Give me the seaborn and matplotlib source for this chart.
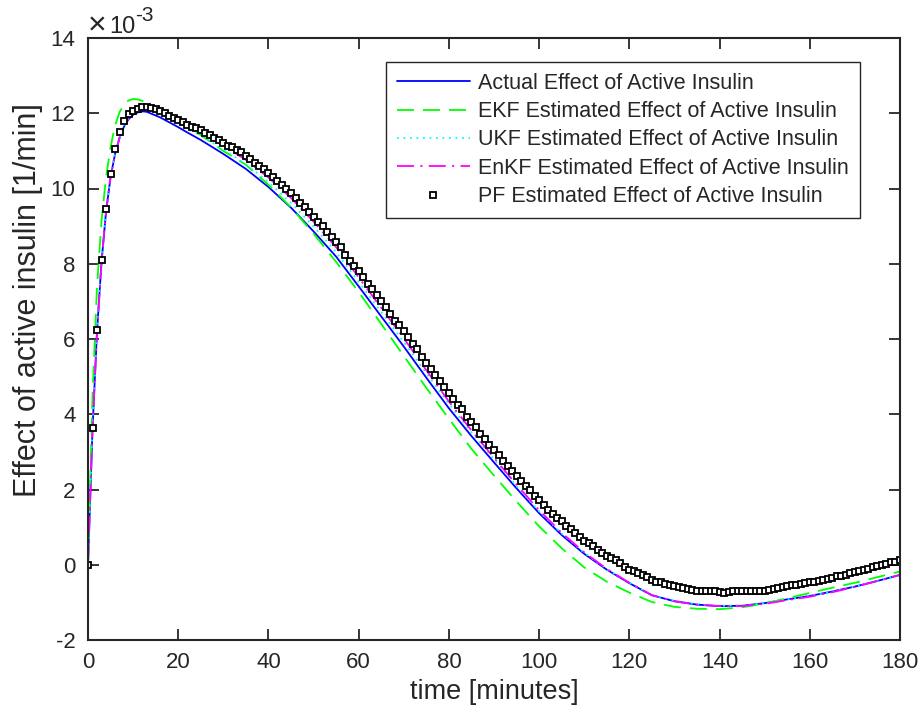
import matplotlib
matplotlib.use("Agg")
import matplotlib.pyplot as plt
import numpy as np
import pandas as pd
import seaborn as sns

# ---------------- data (values in units of 1e-3 1/min) ----------------
t_line = [0, 1, 2, 3, 4, 5, 6, 7, 8, 9, 10, 11, 12, 13, 14, 15, 16, 18, 20, 22,
          25, 30, 35, 40, 45, 50, 55, 60, 65, 70, 75, 80, 85, 90, 95, 100, 105,
          110, 115, 120, 125, 130, 135, 140, 145, 150, 155, 160, 165, 170, 175, 180]

actual = [0, 3.6, 6.2, 8.05, 9.38, 10.3, 10.92, 11.35, 11.65, 11.84,
          11.96, 12.02, 12.05, 12.04, 11.99, 11.94, 11.89, 11.76, 11.63, 11.49,
          11.29, 10.92, 10.52, 10.04, 9.49, 8.86, 8.19, 7.4, 6.6, 5.8,
          4.97, 4.16, 3.42, 2.72, 2.03, 1.37, 0.79, 0.29, -0.13, -0.49,
          -0.81, -0.97, -1.06, -1.1, -1.09, -1.02, -0.92, -0.83, -0.71, -0.58,
          -0.43, -0.27]

ekf = [0, 4.5, 7.4, 9.15, 10.3, 11.1, 11.68, 12.03, 12.24, 12.34,
       12.38, 12.37, 12.33, 12.27, 12.2, 12.13, 12.05, 11.92, 11.78, 11.63,
       11.42, 11.0, 10.63, 10.1, 9.5, 8.8, 8.05, 7.25, 6.4, 5.55,
       4.7, 3.88, 3.08, 2.37, 1.68, 1.02, 0.44, -0.07, -0.45, -0.74,
       -0.99, -1.12, -1.17, -1.18, -1.13, -1.03, -0.89, -0.75, -0.61, -0.48,
       -0.33, -0.18]

ukf = [0, 3.6, 6.2, 8.05, 9.38, 10.3, 10.92, 11.35, 11.65, 11.86,
       11.99, 12.07, 12.11, 12.11, 12.06, 12.02, 11.97, 11.84, 11.72, 11.58,
       11.41, 11.04, 10.65, 10.17, 9.62, 8.99, 8.31, 7.52, 6.72, 5.92,
       5.09, 4.28, 3.52, 2.8, 2.09, 1.42, 0.83, 0.32, -0.12, -0.48,
       -0.8, -0.96, -1.05, -1.09, -1.08, -1.02, -0.92, -0.83, -0.71, -0.58,
       -0.43, -0.27]

enkf = [0, 3.6, 6.2, 8.05, 9.38, 10.3, 10.92, 11.35, 11.65, 11.88,
        12.03, 12.11, 12.15, 12.16, 12.12, 12.08, 12.04, 11.91, 11.79, 11.66,
        11.49, 11.14, 10.76, 10.29, 9.75, 9.12, 8.44, 7.64, 6.83, 6.02,
        5.17, 4.34, 3.57, 2.84, 2.13, 1.45, 0.85, 0.33, -0.11, -0.48,
        -0.81, -0.97, -1.06, -1.1, -1.1, -1.04, -0.94, -0.85, -0.73, -0.59,
        -0.43, -0.27]

pf_minutes = list(range(0, 181))
pf = [0, 3.63, 6.25, 8.10, 9.45, 10.39, 11.05, 11.50, 11.79, 11.98,
      12.07, 12.12, 12.16, 12.17, 12.14, 12.11, 12.06, 12.00, 11.93, 11.88,
      11.83, 11.78, 11.70, 11.64, 11.60, 11.55, 11.48, 11.41, 11.34, 11.28,
      11.22, 11.14, 11.09, 11.01, 10.96, 10.87, 10.79, 10.68, 10.60, 10.52,
      10.42, 10.31, 10.20, 10.09, 9.99, 9.87, 9.76, 9.62, 9.50, 9.37,
      9.24, 9.12, 9.00, 8.84, 8.71, 8.59, 8.44, 8.24, 8.06, 7.93,
      7.80, 7.64, 7.47, 7.32, 7.17, 7.00, 6.84, 6.67, 6.48, 6.37,
      6.20, 6.04, 5.88, 5.73, 5.53, 5.37, 5.19, 5.04, 4.88, 4.72,
      4.56, 4.40, 4.24, 4.13, 3.94, 3.80, 3.67, 3.47, 3.33, 3.19,
      3.06, 2.92, 2.77, 2.63, 2.49, 2.36, 2.23, 2.09, 1.99, 1.84,
      1.71, 1.59, 1.45, 1.34, 1.25, 1.15, 1.03, 0.94, 0.84, 0.74,
      0.64, 0.57, 0.49, 0.39, 0.30, 0.24, 0.17, 0.13, 0.05, -0.06,
      -0.13, -0.17, -0.21, -0.26, -0.33, -0.41, -0.45, -0.45, -0.51, -0.54,
      -0.56, -0.60, -0.63, -0.65, -0.68, -0.70, -0.71, -0.71, -0.71, -0.71,
      -0.73, -0.76, -0.72, -0.71, -0.71, -0.71, -0.71, -0.71, -0.71, -0.71,
      -0.70, -0.68, -0.64, -0.62, -0.60, -0.57, -0.55, -0.53, -0.51, -0.49,
      -0.47, -0.45, -0.42, -0.40, -0.37, -0.34, -0.31, -0.29, -0.26, -0.22,
      -0.20, -0.16, -0.13, -0.10, -0.07, -0.02, 0.00, 0.03, 0.06, 0.08,
      0.12]

labels = ["Actual Effect of Active Insulin",
          "EKF Estimated Effect of Active Insulin",
          "UKF Estimated Effect of Active Insulin",
          "EnKF Estimated Effect of Active Insulin",
          "PF Estimated Effect of Active Insulin"]

x_ticks = [0, 20, 40, 60, 80, 100, 120, 140, 160, 180]
y_ticks = [-2, 0, 2, 4, 6, 8, 10, 12, 14]

# ---------------- style ----------------
sns.set_theme(style="white")
plt.rcParams["font.family"] = ["Liberation Sans", "DejaVu Sans"]

dark = "#262626"

fig = plt.figure(figsize=(9.23, 7.19), dpi=100)
ax = fig.add_axes([88 / 923, 1 - 640 / 719, 812 / 923, 602 / 719])

lw = 1.3
sns.lineplot(x=t_line, y=actual, ax=ax, color=(0, 0, 1), lw=lw, label=labels[0],
             sort=False, estimator=None, errorbar=None)
sns.lineplot(x=t_line, y=ekf, ax=ax, color=(0, 1, 0), lw=lw, label=labels[1],
             linestyle=(0, (9.4, 5)), sort=False, estimator=None, errorbar=None)
sns.lineplot(x=t_line, y=ukf, ax=ax, color=(0, 1, 1), lw=lw, label=labels[2],
             linestyle=(0, (1, 2.6)), sort=False, estimator=None, errorbar=None)
sns.lineplot(x=t_line, y=enkf, ax=ax, color=(1, 0, 1), lw=lw, label=labels[3],
             linestyle=(0, (9.4, 3.5, 1.2, 3.5)), sort=False, estimator=None,
             errorbar=None)
sns.lineplot(x=pf_minutes, y=pf, ax=ax, color="black", label=labels[4],
             linestyle="none", marker="s", markersize=3.9, markerfacecolor="white",
             markeredgecolor="black", markeredgewidth=1.3, sort=False,
             estimator=None, errorbar=None)

ax.set_xlim(0, 180)
ax.set_ylim(-2, 14)
ax.set_xticks(x_ticks)
ax.set_yticks(y_ticks)
ax.set_xticklabels([str(v) for v in x_ticks])
ax.set_yticklabels([str(v) for v in y_ticks])

for s in ax.spines.values():
    s.set_visible(True)
    s.set_color(dark)
    s.set_linewidth(1.5)

ax.tick_params(axis="both", direction="in", length=8, width=1.3, colors=dark,
               labelcolor=dark, labelsize=16, top=True, right=True,
               bottom=True, left=True)
ax.tick_params(axis="x", pad=9)
ax.tick_params(axis="y", pad=9)

ax.set_xlabel("time [minutes]", fontsize=19.5, color=dark, labelpad=4)
ax.set_ylabel("Effect of active insulin [1/min]", fontsize=22, color=dark)
ax.yaxis.set_label_coords(-0.056, 0.565)

# exponent marker (x10^-3) in MATLAB style
fig.text(88 / 923, 1 - 34 / 719, "\u00d7", fontsize=23, color=dark,
         ha="left", va="baseline")
fig.text(109 / 923, 1 - 33 / 719, "10", fontsize=17, color=dark,
         ha="left", va="baseline")
fig.text(135 / 923, 1 - 21 / 719, "-3", fontsize=15, color=dark,
         ha="left", va="baseline")

leg = ax.legend(loc="upper right", bbox_to_anchor=((860 - 88) / 812, (640 - 62) / 602),
                borderaxespad=0, fontsize=15.5, frameon=True, fancybox=False,
                edgecolor=dark, framealpha=1, handlelength=3.4,
                handletextpad=0.4, labelspacing=0.34, borderpad=0.5)
leg.get_frame().set_linewidth(1.0)

fig.savefig("out.png", dpi=100)
